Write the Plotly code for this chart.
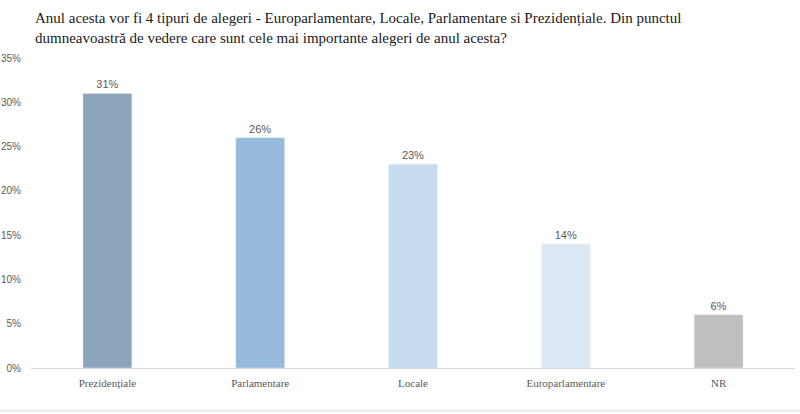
import plotly.graph_objects as go

categories = ["Prezidențiale", "Parlamentare", "Locale", "Europarlamentare", "NR"]
values = [31, 26, 23, 14, 6]
colors = ["#8DA4BD", "#95BADC", "#C6DBEF", "#DCE8F4", "#BFBFBF"]
labels = [f"{v}%" for v in values]
yticks = [0, 5, 10, 15, 20, 25, 30, 35]
yticklabels = [f"{t}%" for t in yticks]

title = ("Anul acesta vor fi 4 tipuri de alegeri - Europarlamentare, Locale, Parlamentare si Prezidențiale. Din punctul<br>"
         "dumneavoastră de vedere care sunt cele mai importante alegeri de anul acesta?")

fig = go.Figure(go.Bar(
    x=categories, y=values, marker_color=colors, width=0.32,
    text=labels, textposition="outside", cliponaxis=False,
    textfont=dict(family="Liberation Sans", size=11, color="#595959"),
))

fig.update_layout(
    width=800, height=414,
    margin=dict(l=31, r=5, t=58, b=46),
    plot_bgcolor="white", paper_bgcolor="white",
    showlegend=False,
    annotations=[dict(
        text=title, xref="paper", yref="paper", x=-0.0085, y=1.0, xanchor="left", yanchor="bottom",
        xshift=8, yshift=10, align="left", showarrow=False,
        font=dict(family="Liberation Serif", size=15, color="#1a1a1a"),
    )],
    shapes=[dict(type="line", xref="paper", yref="paper", x0=-0.05, x1=1.02, y0=-0.138, y1=-0.138,
                 line=dict(color="#E4ECEC", width=2))],
)
fig.update_yaxes(range=[0, 35], tickvals=yticks, ticktext=yticklabels, showgrid=False,
                 zeroline=False, showline=False, ticklabelstandoff=9, automargin=False,
                 tickfont=dict(family="Liberation Sans", size=10, color="#595959"))
fig.update_xaxes(showline=True, linecolor="#D9D9D9", linewidth=1, ticklabelstandoff=5,
                 automargin=False,
                 tickfont=dict(family="Liberation Serif", size=11, color="#595959"))

fig.write_html("out.html", config={"displayModeBar": False},
               post_script="document.body.style.margin='0';")
